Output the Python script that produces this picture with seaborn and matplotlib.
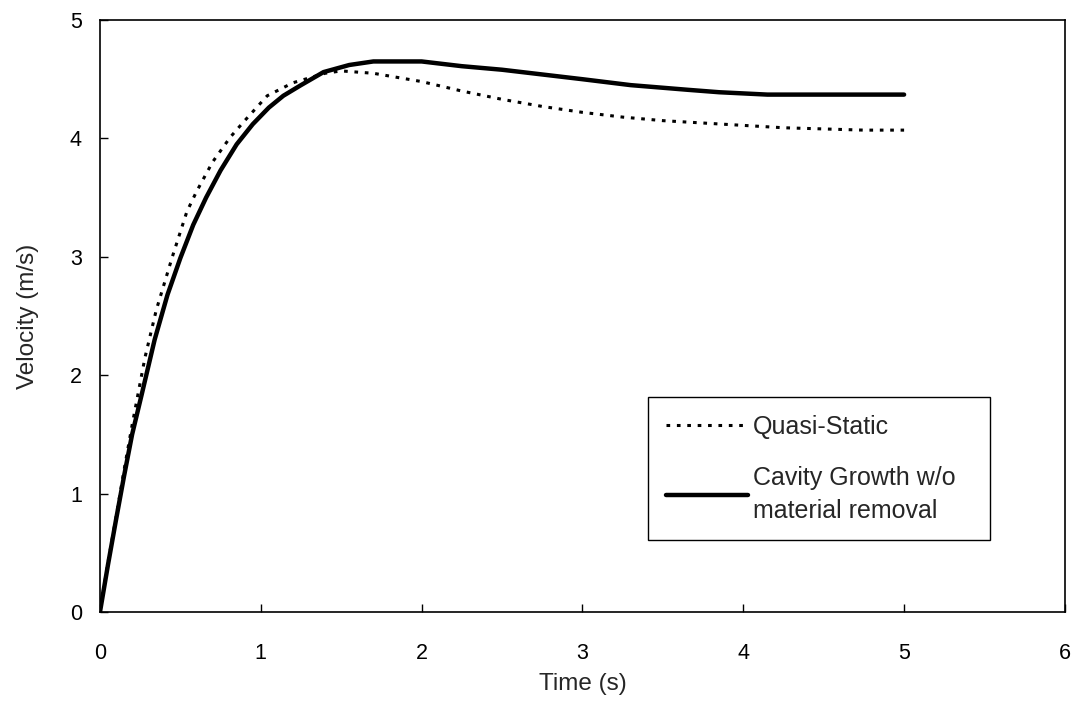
import matplotlib
matplotlib.use("Agg")
import matplotlib.pyplot as plt
import seaborn as sns
import pandas as pd

time_qs = [0.0, 0.05, 0.1, 0.15, 0.2, 0.28, 0.35, 0.45, 0.54, 0.6, 0.7, 0.81, 0.9, 1.04, 1.2, 1.4, 1.5,
           1.7, 2.0, 2.25, 2.5, 2.75, 3.0, 3.25, 3.5, 3.75, 4.0, 4.25, 4.5, 4.75, 5.0]
vel_qs = [0.0, 0.42, 0.8, 1.2, 1.58, 2.15, 2.55, 3.0, 3.38, 3.55, 3.8, 4.01, 4.15, 4.36, 4.47, 4.55, 4.57,
          4.55, 4.48, 4.4, 4.33, 4.27, 4.22, 4.18, 4.15, 4.13, 4.11, 4.09, 4.08, 4.07, 4.07]

time_cg = [0.0, 0.05, 0.1, 0.15, 0.2, 0.26, 0.34, 0.42, 0.5, 0.58, 0.66, 0.75, 0.85, 0.95, 1.05, 1.14,
           1.25, 1.39, 1.55, 1.7, 2.0, 2.25, 2.5, 2.75, 3.0, 3.3, 3.66, 3.85, 4.15, 4.5, 5.0]
vel_cg = [0.0, 0.4, 0.78, 1.15, 1.5, 1.84, 2.3, 2.68, 2.99, 3.27, 3.5, 3.73, 3.95, 4.12, 4.26, 4.36,
          4.45, 4.56, 4.62, 4.65, 4.65, 4.61, 4.58, 4.54, 4.5, 4.45, 4.41, 4.39, 4.37, 4.37, 4.37]

df_qs = pd.DataFrame({"Time": time_qs, "Velocity": vel_qs})
df_cg = pd.DataFrame({"Time": time_cg, "Velocity": vel_cg})

sns.set_style("white")
plt.rcParams["font.family"] = ["Liberation Sans", "DejaVu Sans"]

fig = plt.figure(figsize=(10.83, 7.17), dpi=100)
ax = fig.add_axes([0.0923, 0.1464, 0.891, 0.8257])

sns.lineplot(data=df_qs, x="Time", y="Velocity", ax=ax, color="black",
             linewidth=2.2, linestyle=(0, (1.2, 2.2)), label="Quasi-Static")
sns.lineplot(data=df_cg, x="Time", y="Velocity", ax=ax, color="black",
             linewidth=3.2, label="Cavity Growth w/o\nmaterial removal")

ax.set_xlim(0, 6)
ax.set_ylim(0, 5)
ax.set_xticks(range(0, 7))
ax.set_yticks(range(0, 6))
ax.tick_params(direction="in", length=6, width=1, labelsize=15.5, pad=22,
               bottom=True, left=True, colors="black")
ax.tick_params(axis="y", pad=13)
ax.set_xlabel("Time (s)", fontsize=17.5, labelpad=7)
ax.set_ylabel("Velocity (m/s)", fontsize=17.5, labelpad=22)
for sp in ax.spines.values():
    sp.set_color("black")
    sp.set_linewidth(1.2)

leg = ax.legend(loc="upper left", bbox_to_anchor=(0.568, 0.113, 0.354, 0.25),
                mode="expand", borderaxespad=0,
                fontsize=18, handlelength=3.3, handletextpad=0.2, labelspacing=1.1,
                fancybox=False, framealpha=1, borderpad=0.7)
for t in leg.get_texts():
    t.set_linespacing(1.45)
leg.get_frame().set_edgecolor("black")
leg.get_frame().set_linewidth(1.0)

plt.savefig("out.png", dpi=100)
plt.close()
